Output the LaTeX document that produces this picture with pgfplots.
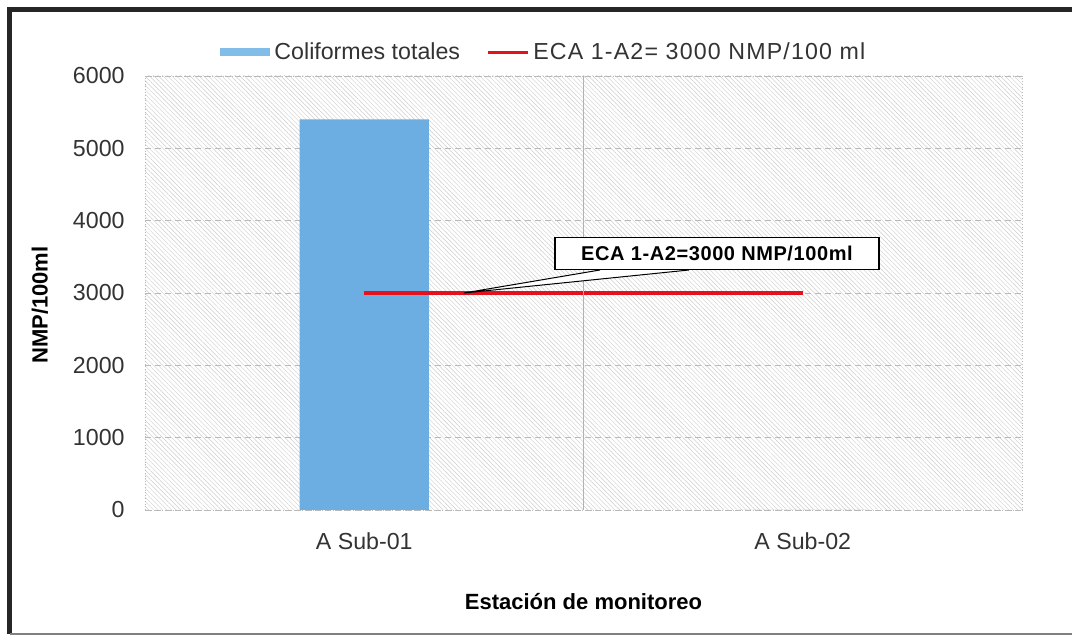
\documentclass[border=0pt]{standalone}
\usepackage{pgfplots}
\pgfplotsset{compat=1.18}
\usepackage{fontspec}
\setmainfont{Liberation Sans}
\usetikzlibrary{patterns.meta}
\definecolor{barblue}{RGB}{108,174,226}
\definecolor{legblue}{RGB}{130,188,232}
\definecolor{ecared}{RGB}{228,18,28}
\begin{document}
\begin{tikzpicture}
\useasboundingbox (-72.5pt,-63.5pt) rectangle (463.5pt,255pt);
\begin{axis}[
  at={(0pt,0pt)}, anchor=south west,
  scale only axis, width=438.5pt, height=217pt,
  xmin=-0.5, xmax=1.5, ymin=0, ymax=6000,
  xtick={0,1}, xticklabels={A Sub-01, A Sub-02},
  ytick={0,1000,...,6000},
  major tick length=0pt,
  /pgf/number format/assume math mode=true,
  /pgf/number format/1000 sep={},
  tick label style={font=\fontsize{11.6}{13}\selectfont, text=black!80},
  yticklabel style={anchor=east, inner sep=0pt, xshift=-10pt},
  xticklabel style={anchor=north, inner sep=0pt, yshift=-11pt},
  ymajorgrids,
  grid style={gray!55, densely dashed, line width=0.4pt},
  axis line style={gray!55, densely dotted, line width=0.4pt},
  axis background/.style={pattern={Lines[angle=-45, distance=1.6pt, line width=0.22pt]}, pattern color=gray!40},
  xlabel={Estación de monitoreo},
  ylabel={NMP/100ml},
  xlabel style={font=\bfseries\fontsize{11}{13}\selectfont, at={(axis description cs:0.5,-0.212)}, anchor=center},
  ylabel style={font=\bfseries\fontsize{11}{13}\selectfont, at={(axis description cs:-0.12,0.472)}, anchor=center},
  legend style={at={(axis description cs:0.456,1.055)}, anchor=center, draw=none, fill=none,
    legend columns=2, font=\fontsize{11.6}{13}\selectfont, text=black!80,
    /tikz/every even column/.append style={column sep=11pt}},
]
\addplot[ybar, bar width=64.5pt, fill=barblue, draw=none,
  legend image code/.code={\fill[legblue] (0pt,-2pt) rectangle (25pt,2pt);}]
  coordinates {(0,5400) (1,0)};
\addlegendentry{Coliformes totales}
\addplot[ecared, line width=2pt, sharp plot,
  legend image code/.code={\draw[ecared, line width=1.6pt] (0pt,0pt) -- (20pt,0pt);}]
  coordinates {(0,3000) (1,3000)};
\addlegendentry{\addfontfeature{LetterSpace=5}ECA 1-A2= 3000 NMP/100 ml}
\draw[gray!60, line width=0.5pt] (axis cs:0.5,0) ++(0pt,-3pt) -- (axis cs:0.5,6000);
\filldraw[fill=white, draw=black, line width=0.5pt] (axis cs:0.5376,3318) -- (axis cs:0.2275,3000) -- (axis cs:0.7406,3318);
\node[draw=black, line width=0.8pt, fill=white, minimum width=162pt, minimum height=16pt, inner sep=0pt,
  font=\bfseries\fontsize{10}{12}\selectfont] at (axis cs:0.8045,3546) {\addfontfeature{LetterSpace=3}ECA 1-A2=3000 NMP/100ml};
\end{axis}
\draw[line width=2.5pt, black!85] (-67.5pt,-62pt) -- (-67.5pt,250pt) -- (463.5pt,250pt);
\draw[gray, line width=1pt] (-67.5pt,-62pt) -- (463.5pt,-62pt);
\end{tikzpicture}
\end{document}
